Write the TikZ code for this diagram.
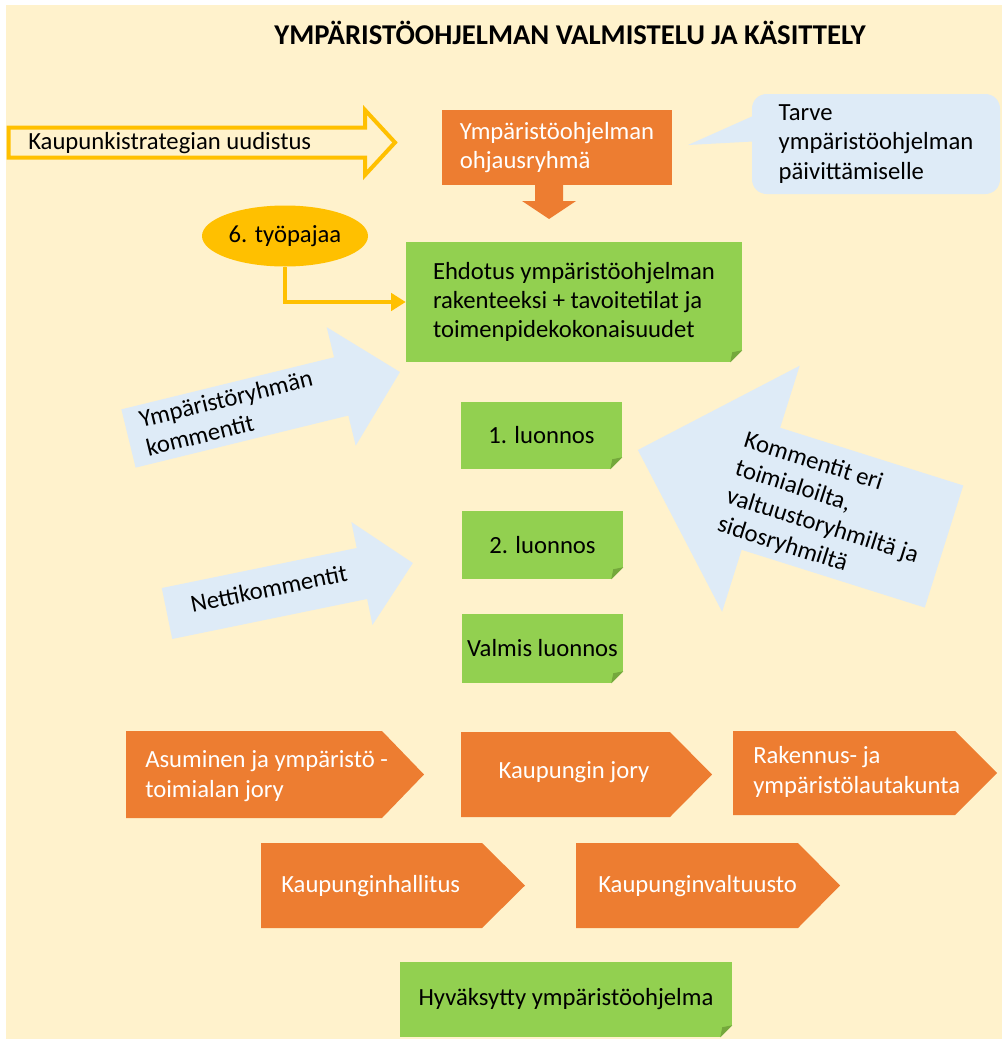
\documentclass[tikz,border=0pt]{standalone}
\usepackage{fontspec}
\setmainfont{Carlito}
\usetikzlibrary{shapes.geometric,arrows.meta}
\definecolor{bgy}{HTML}{FFF2CC}
\definecolor{org}{HTML}{ED7D31}
\definecolor{grn}{HTML}{92D050}
\definecolor{folddk}{HTML}{74A83C}
\definecolor{gold}{HTML}{FFC000}
\definecolor{lblue}{HTML}{DEEBF7}
\newcommand\mkfold[1]{%
  \fill[bgy] (#1.south east) -- ++(-12,0) -- ++(12,-12) -- cycle;
  \fill[folddk] (#1.south east) ++(-12,0) -- ++(12,-12) -- ++(-10,2) -- cycle;}
\begin{document}
\begin{tikzpicture}[x=0.75pt,y=-0.75pt,
  txt/.style={font=\fontsize{18.5}{22}\selectfont, inner sep=0pt},
  gbox/.style={txt, fill=grn},
  obox/.style={txt, fill=org, text=white},
  chev/.style={fill=org},
  barrow/.style={fill=lblue},
  conn/.style={draw=gold, line width=3.5pt, -{Triangle[length=11pt,width=13pt]}}]
\useasboundingbox (0,0) rectangle (1002,1039);
\fill[white] (0,0) rectangle (1002,1039);
\fill[bgy] (6,5) rectangle (1002,1039);

% title
\node[txt, font=\fontsize{21.5}{25}\selectfont\bfseries] (title) at (570,33) {YMPÄRISTÖOHJELMAN VALMISTELU JA KÄSITTELY};

% outline arrow
\draw[gold, line width=3pt] (8.5,127.5) -- (365,127.5) -- (365,110) -- (395,142.5) -- (365,175) -- (365,157.5) -- (8.5,157.5) -- cycle;
\node[txt, anchor=west] (kaup) at (28,143) {Kaupunkistrategian uudistus};

% steering group
\node[obox, minimum width=172.5pt, minimum height=56.25pt, align=left] (ohj) at (557,147.5) {Ympäristöohjelman\\ohjausryhmä};
\fill[org] (535,185) -- (563,185) -- (563,201) -- (576,201) -- (549,219) -- (522,201) -- (535,201) -- cycle;

% callout
\fill[lblue] (762,112) -- (688,145) -- (762,141) -- cycle;
\node[txt, fill=lblue, rounded corners=11pt, minimum width=186pt, minimum height=75pt, align=left] (tarve) at (876,144) {Tarve\\ympäristöohjelman\\päivittämiselle};

% workshop ellipse
\node[txt, ellipse, fill=gold, minimum width=124.5pt, minimum height=45.75pt] (tyo) at (285,236) {6. työpajaa};

% proposal
\node[gbox, minimum width=252pt, minimum height=90pt, align=left] (ehd) at (574,302) {Ehdotus ympäristöohjelman\\rakenteeksi + tavoitetilat ja\\toimenpidekokonaisuudet};
\mkfold{ehd}
\draw[conn] (tyo.south) |- (ehd.west);

% blue arrows
\begin{scope}[shift={(128.5,438.5)}, rotate=13.76]
\fill[barrow] (0,-30) -- (219,-30) -- (219,-61) -- (279.5,0) -- (219,61) -- (219,30) -- (0,30) -- cycle;
\node[txt, anchor=west, align=left, transform shape] (yrk) at (15,-1) {Ympäristöryhmän\\kommentit};
\end{scope}
\begin{scope}[shift={(167,613.5)}, rotate=11.6]
\fill[barrow] (0,-26) -- (199,-26) -- (199,-52.5) -- (251,0) -- (199,52.5) -- (199,26) -- (0,26) -- cycle;
\node[txt, anchor=west, transform shape] (net) at (25,-4) {Nettikommentit};
\end{scope}
\begin{scope}[shift={(944,546.5)}, rotate=162.5]
\fill[barrow] (0,-64) -- (192,-64) -- (192,-129) -- (321,0) -- (192,129) -- (192,64) -- (0,64) -- cycle;
\node[txt, align=left, transform shape, rotate=180] (kom) at (122,-3) {Kommentit eri\\toimialoilta,\\valtuustoryhmiltä ja\\sidosryhmiltä};
\end{scope}

% drafts
\node[gbox, minimum width=120.75pt, minimum height=50.25pt] (l1) at (541.5,435.5) {1. luonnos};
\mkfold{l1}
\node[gbox, minimum width=120.75pt, minimum height=51pt] (l2) at (542.5,545) {2. luonnos};
\mkfold{l2}
\node[gbox, minimum width=120.75pt, minimum height=51.75pt] (l3) at (542.5,648.5) {Valmis luonnos};
\mkfold{l3}

% chevrons row 1
\fill[chev] (126,731) -- (382,731) -- (424,774.5) -- (382,818) -- (126,818) -- cycle;
\node[txt, text=white, anchor=west, align=left] (asu) at (145,776) {Asuminen ja ympäristö -\\toimialan jory};
\fill[chev] (461,732) -- (670,732) -- (712,774.5) -- (670,817) -- (461,817) -- cycle;
\node[txt, text=white] (kjory) at (574,772) {Kaupungin jory};
\fill[chev] (733,731) -- (955,731) -- (997,773) -- (955,815) -- (733,815) -- cycle;
\node[txt, text=white, anchor=west, align=left] (ryl) at (753,772) {Rakennus- ja\\ympäristölautakunta};

% chevrons row 2
\fill[chev] (261,843) -- (482,843) -- (525,885.5) -- (482,928) -- (261,928) -- cycle;
\node[txt, text=white, anchor=west] (khal) at (281,886) {Kaupunginhallitus};
\fill[chev] (576,843) -- (798,843) -- (840,885.5) -- (798,928) -- (576,928) -- cycle;
\node[txt, text=white, anchor=west] (kval) at (598,886) {Kaupunginvaltuusto};

% final
\node[gbox, minimum width=249pt, minimum height=56.25pt] (hyv) at (566,999.5) {Hyväksytty ympäristöohjelma};
\mkfold{hyv}
\end{tikzpicture}
\end{document}
